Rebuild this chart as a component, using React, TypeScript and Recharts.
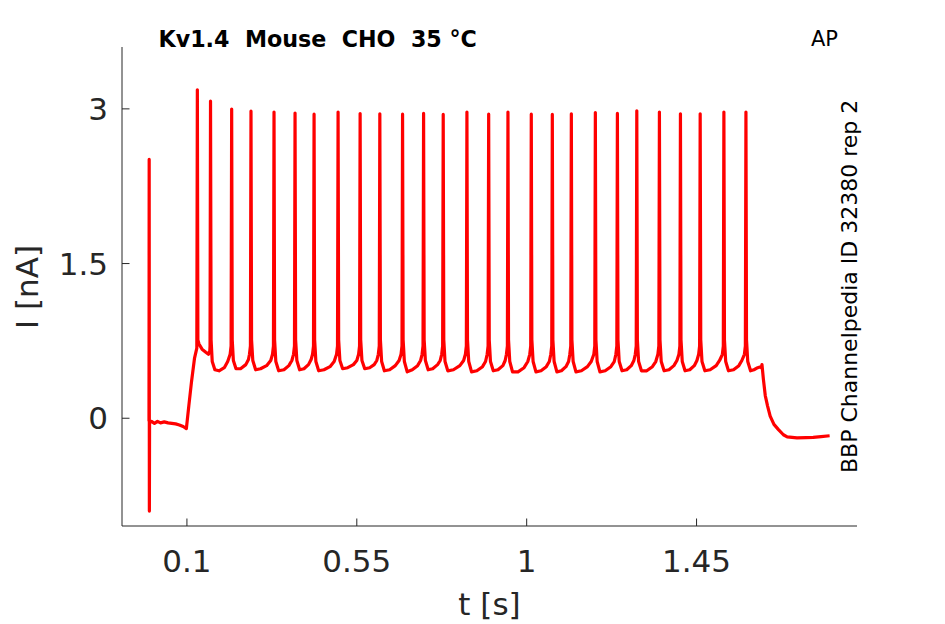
import React from 'react';
import { LineChart, Line, XAxis, YAxis } from 'recharts';

const INK = '#262626';
const FONT = '"DejaVu Sans", sans-serif';

const xTicks = [0.1, 0.55, 1, 1.45];
const yTicks = [0, 1.5, 3];

// [t (s), I (nA)]
const preStim: [number, number][] = [
  [-0.0005, -0.03], [0, 2.51], [0.0005, -0.9], [0.001, -0.04],
  [0.006, -0.03], [0.014, -0.05], [0.022, -0.03], [0.03, -0.045],
  [0.04, -0.035], [0.05, -0.045], [0.06, -0.05], [0.07, -0.055],
  [0.08, -0.065], [0.09, -0.08], [0.0985, -0.1],
];

const onsetRise: [number, number][] = [
  [0.105, 0.12], [0.112, 0.35], [0.12, 0.58], [0.1262, 0.68],
];

// one row per spike: peak, repolarisation, trough, ramp to the next one
const spikeTrain: [number, number][][] = [
  [[0.1276, 3.185], [0.129, 0.76], [0.132, 0.72], [0.14, 0.67], [0.15, 0.64], [0.157, 0.62], [0.1605, 0.65], [0.1612, 0.7]],
  [[0.1625, 3.075], [0.164, 0.76], [0.167, 0.55], [0.174, 0.47], [0.185, 0.46], [0.199, 0.49], [0.208, 0.55], [0.2145, 0.62], [0.217, 0.7]],
  [[0.2185, 2.998], [0.22, 0.76], [0.223, 0.56], [0.23, 0.48], [0.242, 0.48], [0.256, 0.52], [0.263, 0.57], [0.2657, 0.62], [0.2682, 0.7]],
  [[0.2697, 2.978], [0.2712, 0.76], [0.2745, 0.56], [0.282, 0.47], [0.295, 0.48], [0.311, 0.51], [0.322, 0.56], [0.3267, 0.62], [0.3292, 0.7]],
  [[0.3307, 2.969], [0.3322, 0.76], [0.3355, 0.55], [0.343, 0.46], [0.357, 0.47], [0.37, 0.51], [0.378, 0.56], [0.3824, 0.62], [0.3849, 0.7]],
  [[0.3864, 2.959], [0.3879, 0.76], [0.3912, 0.56], [0.3985, 0.47], [0.41, 0.48], [0.422, 0.52], [0.429, 0.57], [0.4328, 0.62], [0.4353, 0.7]],
  [[0.4368, 2.949], [0.4383, 0.76], [0.4416, 0.55], [0.449, 0.46], [0.463, 0.47], [0.479, 0.5], [0.49, 0.55], [0.4964, 0.62], [0.4989, 0.7]],
  [[0.5004, 2.969], [0.5019, 0.76], [0.5052, 0.56], [0.5125, 0.48], [0.526, 0.49], [0.541, 0.52], [0.55, 0.56], [0.5548, 0.62], [0.5573, 0.7]],
  [[0.5588, 2.955], [0.5603, 0.76], [0.5636, 0.56], [0.571, 0.48], [0.584, 0.49], [0.596, 0.52], [0.603, 0.56], [0.607, 0.62], [0.6095, 0.7]],
  [[0.611, 2.952], [0.6125, 0.76], [0.6158, 0.55], [0.623, 0.46], [0.637, 0.47], [0.652, 0.51], [0.662, 0.56], [0.6672, 0.62], [0.6697, 0.7]],
  [[0.6712, 2.949], [0.6727, 0.76], [0.676, 0.55], [0.6835, 0.45], [0.697, 0.47], [0.711, 0.51], [0.719, 0.56], [0.7229, 0.62], [0.7254, 0.7]],
  [[0.7269, 2.956], [0.7284, 0.76], [0.7317, 0.56], [0.739, 0.47], [0.751, 0.48], [0.764, 0.52], [0.771, 0.56], [0.7749, 0.62], [0.7774, 0.7]],
  [[0.7789, 2.946], [0.7804, 0.76], [0.7837, 0.55], [0.791, 0.46], [0.806, 0.47], [0.823, 0.51], [0.833, 0.56], [0.8377, 0.62], [0.8402, 0.7]],
  [[0.8417, 2.969], [0.8432, 0.76], [0.8465, 0.55], [0.854, 0.45], [0.868, 0.46], [0.883, 0.5], [0.891, 0.55], [0.8953, 0.62], [0.8978, 0.7]],
  [[0.8993, 2.949], [0.9008, 0.76], [0.9041, 0.55], [0.9115, 0.46], [0.924, 0.47], [0.937, 0.51], [0.943, 0.56], [0.9464, 0.62], [0.9489, 0.7]],
  [[0.9504, 2.969], [0.9519, 0.76], [0.9552, 0.55], [0.9625, 0.45], [0.977, 0.45], [0.993, 0.49], [1.003, 0.55], [1.0082, 0.62], [1.0107, 0.7]],
  [[1.0122, 2.949], [1.0137, 0.76], [1.017, 0.55], [1.0245, 0.45], [1.038, 0.46], [1.052, 0.5], [1.06, 0.55], [1.0639, 0.62], [1.0664, 0.7]],
  [[1.0679, 2.946], [1.0694, 0.76], [1.0727, 0.55], [1.08, 0.45], [1.092, 0.46], [1.104, 0.5], [1.111, 0.55], [1.1143, 0.62], [1.1168, 0.7]],
  [[1.1183, 2.952], [1.1198, 0.76], [1.1231, 0.55], [1.1305, 0.45], [1.145, 0.46], [1.161, 0.5], [1.171, 0.55], [1.1779, 0.62], [1.1804, 0.7]],
  [[1.1819, 2.965], [1.1834, 0.76], [1.1867, 0.55], [1.194, 0.45], [1.208, 0.46], [1.223, 0.5], [1.232, 0.55], [1.2363, 0.62], [1.2388, 0.7]],
  [[1.2403, 2.956], [1.2418, 0.76], [1.2451, 0.55], [1.2525, 0.46], [1.265, 0.47], [1.277, 0.51], [1.284, 0.56], [1.2877, 0.62], [1.2902, 0.7]],
  [[1.2917, 2.981], [1.2932, 0.76], [1.2965, 0.55], [1.304, 0.46], [1.318, 0.46], [1.333, 0.5], [1.342, 0.55], [1.3476, 0.62], [1.3501, 0.7]],
  [[1.3516, 2.969], [1.3531, 0.76], [1.3564, 0.55], [1.364, 0.46], [1.377, 0.47], [1.39, 0.51], [1.398, 0.56], [1.4033, 0.62], [1.4058, 0.7]],
  [[1.4073, 2.952], [1.4088, 0.76], [1.4121, 0.55], [1.4195, 0.46], [1.432, 0.47], [1.444, 0.51], [1.451, 0.56], [1.4556, 0.62], [1.4581, 0.7]],
  [[1.4596, 2.952], [1.4611, 0.76], [1.4644, 0.55], [1.472, 0.46], [1.486, 0.47], [1.502, 0.51], [1.511, 0.56], [1.5184, 0.62], [1.5209, 0.7]],
  [[1.5224, 2.969], [1.5239, 0.76], [1.5272, 0.55], [1.5345, 0.46], [1.548, 0.47], [1.562, 0.51], [1.57, 0.56], [1.5768, 0.62], [1.5793, 0.7]],
  [[1.5808, 2.969], [1.5823, 0.76], [1.5856, 0.55], [1.593, 0.46], [1.602, 0.47], [1.612, 0.49], [1.62, 0.5]],
];

const offsetTail: [number, number][] = [
  [1.6215, 0.49], [1.6233, 0.52], [1.627, 0.38], [1.632, 0.22], [1.638, 0.12],
  [1.645, 0.02], [1.655, -0.06], [1.667, -0.11], [1.68, -0.16], [1.69, -0.18],
  [1.716, -0.19], [1.74, -0.188], [1.759, -0.185], [1.78, -0.178], [1.8025, -0.17],
];

const trace = [...preStim, ...onsetRise, ...spikeTrain.flat(), ...offsetTail].map(([t, i]) => ({ t, i }));

const XTick = (props: any) => {
  const { x, y, payload } = props;
  return (
    <g>
      <line x1={x} x2={x} y1={y} y2={y - 7.5} stroke={INK} strokeWidth={1} />
      <text x={x} y={y + 46} textAnchor="middle" fontSize={31} fill={INK} fontFamily={FONT}>
        {payload.value}
      </text>
    </g>
  );
};

const YTick = (props: any) => {
  const { x, y, payload } = props;
  return (
    <g>
      <line x1={x} x2={x + 7.5} y1={y} y2={y} stroke={INK} strokeWidth={1} />
      <text x={x - 14} y={y + 11} textAnchor="end" fontSize={31} fill={INK} fontFamily={FONT}>
        {payload.value}
      </text>
    </g>
  );
};

export default function App() {
  return (
    <div style={{ position: 'absolute', left: 0, top: 0, width: 945, height: 624, background: '#fff' }}>
      <LineChart
        width={945}
        height={624}
        data={trace}
        margin={{ top: 47, right: 88, bottom: 38, left: 0 }}
      >
        <XAxis
          dataKey="t"
          type="number"
          domain={[-0.072, 1.875]}
          ticks={xTicks}
          interval={0}
          allowDataOverflow
          height={60}
          tickSize={0}
          tickMargin={0}
          tickLine={false}
          axisLine={{ stroke: INK, strokeWidth: 1 }}
          tick={<XTick />}
        />
        <YAxis
          type="number"
          domain={[-1.045, 3.6]}
          ticks={yTicks}
          interval={0}
          allowDataOverflow
          width={122}
          tickSize={0}
          tickMargin={0}
          tickLine={false}
          axisLine={{ stroke: INK, strokeWidth: 1 }}
          tick={<YTick />}
        />
        <Line
          type="linear"
          dataKey="i"
          stroke="#ff0000"
          strokeWidth={3.2}
          strokeLinejoin="round"
          dot={false}
          activeDot={false}
          isAnimationActive={false}
        />
      </LineChart>
      <svg
        width={945}
        height={624}
        style={{ position: 'absolute', left: 0, top: 0, pointerEvents: 'none' }}
        fontFamily={FONT}
      >
        <text x={158.5} y={47} fontSize={22.2} fontWeight="bold" fill="#000" style={{ whiteSpace: 'pre' }}>
          {'Kv1.4  Mouse  CHO  35 °C'}
        </text>
        <text x={811} y={46} fontSize={21} fill="#000">AP</text>
        <text
          x={857}
          y={473}
          fontSize={22}
          fill="#000"
          transform="rotate(-90 857 473)"
        >
          BBP Channelpedia ID 32380 rep 2
        </text>
        <text x={489.5} y={615} fontSize={31} fill={INK} textAnchor="middle">t [s]</text>
        <text
          x={37.7}
          y={287}
          fontSize={31}
          fill={INK}
          textAnchor="middle"
          transform="rotate(-90 37.7 287)"
        >
          I [nA]
        </text>
      </svg>
    </div>
  );
}
